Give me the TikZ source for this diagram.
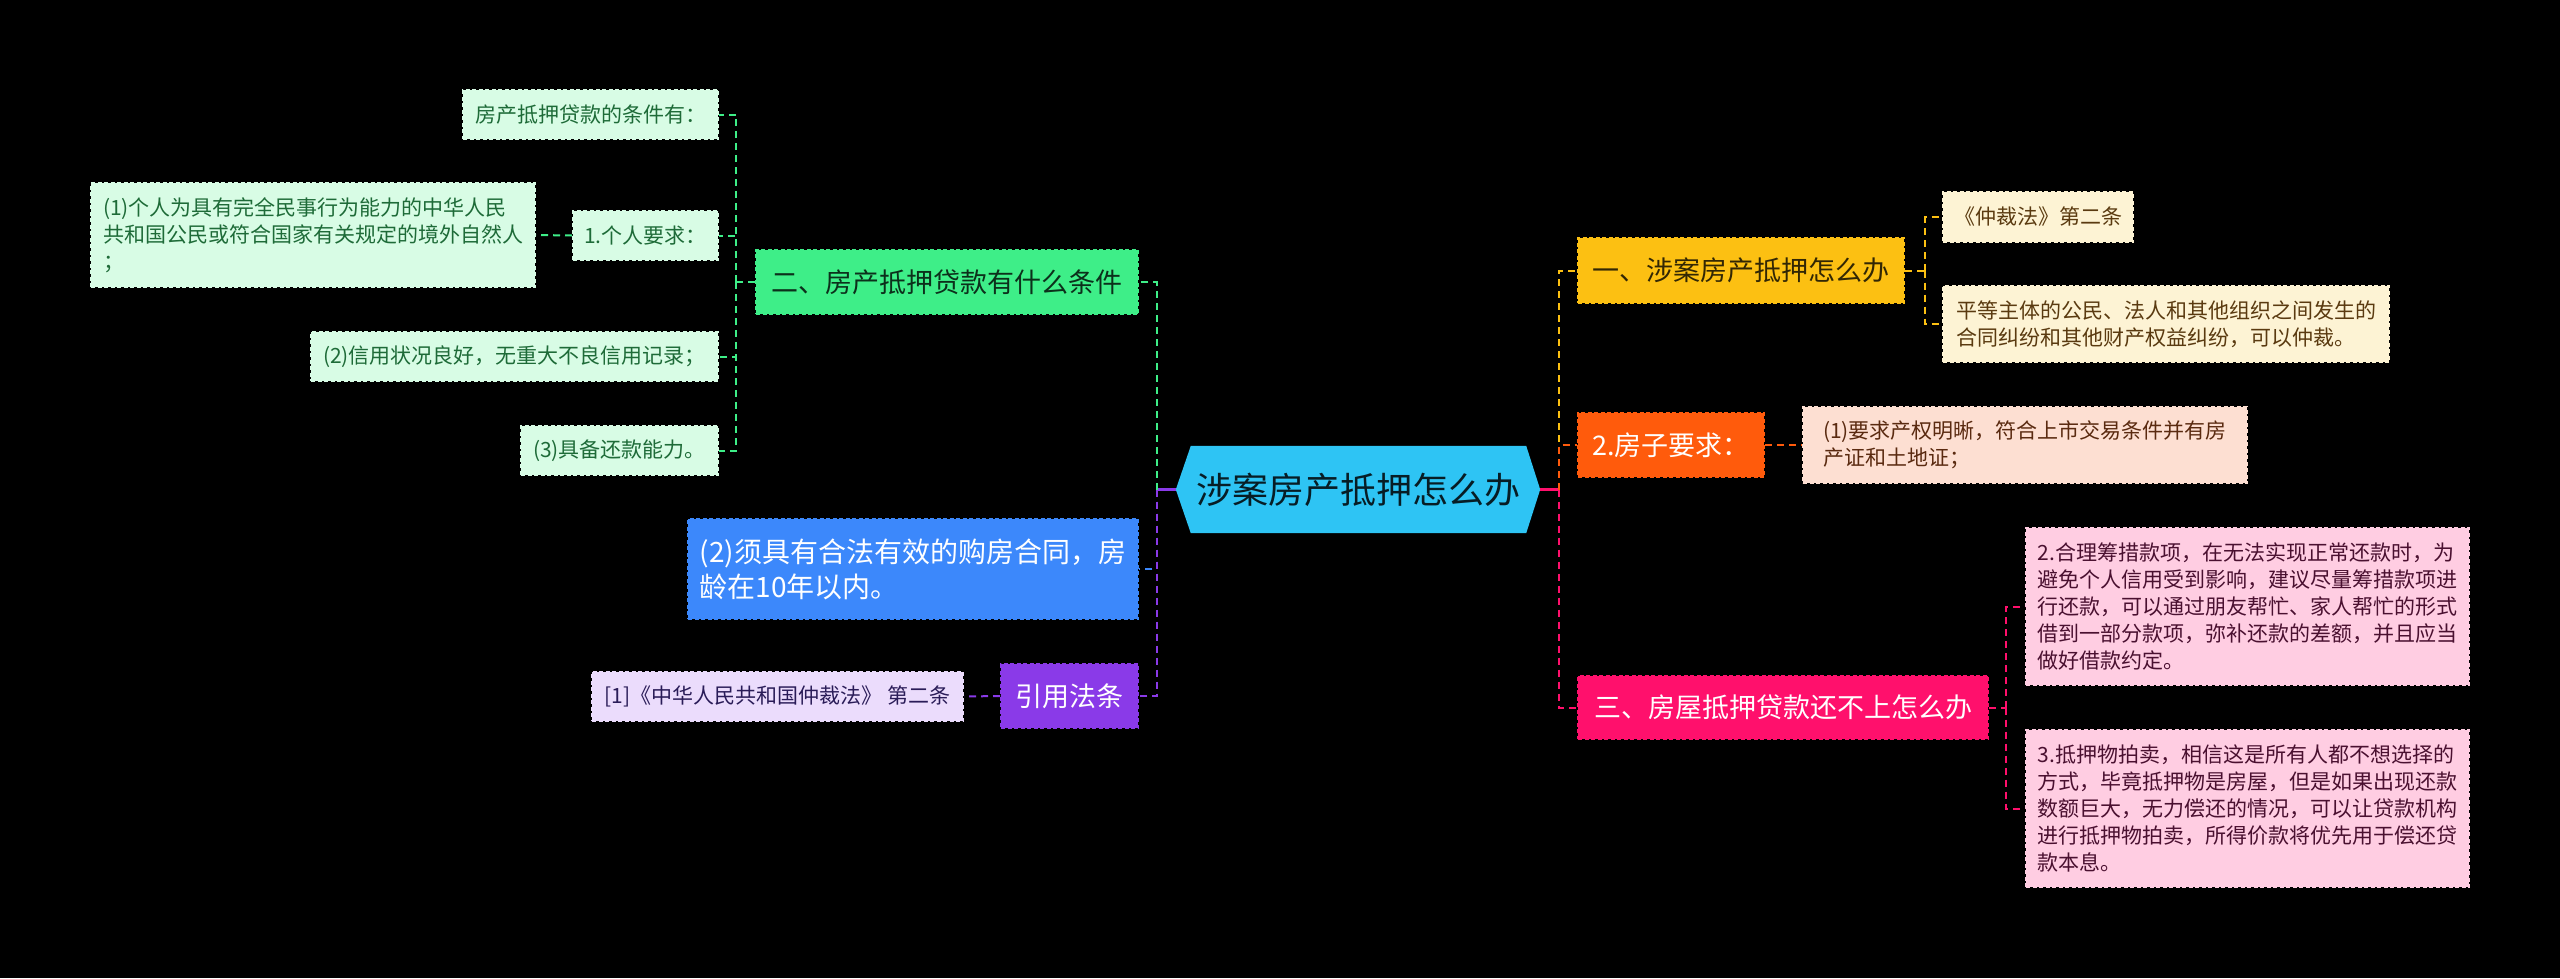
\documentclass[tikz,border=0pt]{standalone}
\usepackage{fontspec}
\setmainfont{Noto Sans CJK SC}
\usepackage{xcolor}
\usepackage{tikz}
\usetikzlibrary{positioning,backgrounds}

\definecolor{rootblue}{HTML}{2EC4F4}
\definecolor{cgreen}{HTML}{3EEE88}
\definecolor{lgreen}{HTML}{D8FCE5}
\definecolor{tgreen}{HTML}{1E6B38}
\definecolor{cblue}{HTML}{3C88FB}
\definecolor{cpurple}{HTML}{8A3AE8}
\definecolor{lpurple}{HTML}{EBDCFC}
\definecolor{tpurple}{HTML}{2A1C58}
\definecolor{cyellow}{HTML}{FCC012}
\definecolor{lyellow}{HTML}{FDF3D4}
\definecolor{tyellow}{HTML}{5A3A10}
\definecolor{corange}{HTML}{FF5B0C}
\definecolor{lorange}{HTML}{FDDFD2}
\definecolor{torange}{HTML}{5A2A10}
\definecolor{cpink}{HTML}{FF106C}
\definecolor{lpink}{HTML}{FFCDE2}
\definecolor{tpink}{HTML}{4A1030}

\newcommand{\rootfont}{\fontsize{36pt}{44pt}\selectfont}
\newcommand{\sectfont}{\fontsize{27pt}{34pt}\selectfont}
\newcommand{\bluefont}{\fontsize{28pt}{35pt}\selectfont}
\newcommand{\leaffont}{\fontsize{21pt}{27pt}\selectfont}

\begin{document}
\begin{tikzpicture}[x=1pt,y=-1pt,
  box/.style={line width=2pt, dash pattern=on 4pt off 2.5pt, inner sep=0pt, align=left},
  leafbox/.style={box, font=\leaffont},
  sectbox/.style={box, font=\sectfont},
  link/.style={line width=2pt, dash pattern=on 7pt off 5pt},
  stub/.style={line width=2.5pt},
]
\useasboundingbox (0,0) rectangle (2560,978);

% centre
\node (root) [minimum width=335pt, minimum height=87pt, inner sep=0pt,
  font=\rootfont, text=black!85!rootblue] at (1358.5,489.5) {涉案房产抵押怎么办};
\coordinate (rootW) at ([xshift=-15pt]root.west);
\coordinate (rootE) at ([xshift=14pt]root.east);
\begin{scope}[on background layer]
  \fill[black] (0,0) rectangle (2560,978);
  \fill[rootblue] (root.north west) -- (root.north east) -- (rootE)
    -- (root.south east) -- (root.south west) -- (rootW) -- cycle;
\end{scope}

% left: 二
\node (g2) [sectbox, fill=cgreen, draw=cgreen, text=black!80!cgreen,
  minimum width=382pt, minimum height=64pt] at (947,282) {二、房产抵押贷款有什么条件};
\node (g2a) [leafbox, fill=lgreen, draw=lgreen, text=tgreen,
  minimum width=255pt, minimum height=49pt] at (590.5,114.5) {房产抵押贷款的条件有：};
\node (g2b) [leafbox, fill=lgreen, draw=lgreen, text=tgreen,
  minimum width=145pt, minimum height=49pt] at (645.5,235.5) {1.个人要求：};
\node (g2b1) [leafbox, fill=lgreen, draw=lgreen, text=tgreen,
  minimum width=444pt, minimum height=104pt] at (313,235)
  {(1)个人为具有完全民事行为能力的中华人民\\共和国公民或符合国家有关规定的境外自然人\\；};
\node (g2c) [leafbox, fill=lgreen, draw=lgreen, text=tgreen,
  minimum width=407pt, minimum height=49pt] at (514.5,356.5) {(2)信用状况良好，无重大不良信用记录；};
\node (g2d) [leafbox, fill=lgreen, draw=lgreen, text=tgreen,
  minimum width=197pt, minimum height=49pt] at (619.5,450.5) {(3)具备还款能力。};

% left: blue box and citation
\node (house) [box, font=\bluefont, fill=cblue, draw=cblue, text=white,
  minimum width=450pt, minimum height=100pt] at (913,569)
  {(2)须具有合法有效的购房合同，房\\龄在10年以内。\hspace*{211pt}};
\node (cite) [sectbox, fill=cpurple, draw=cpurple, text=white,
  minimum width=137pt, minimum height=64pt] at (1069.5,696) {引用法条};
\node (cite1) [leafbox, fill=lpurple, draw=lpurple, text=tpurple,
  minimum width=371pt, minimum height=49pt] at (777.5,696.5) {[1]《中华人民共和国仲裁法》 第二条};

% right: 一
\node (y1) [sectbox, fill=cyellow, draw=cyellow, text=black!80!cyellow,
  minimum width=326pt, minimum height=65pt] at (1741,270.5) {一、涉案房产抵押怎么办};
\node (y1a) [leafbox, fill=lyellow, draw=lyellow, text=tyellow,
  minimum width=190pt, minimum height=50pt] at (2038,217) {《仲裁法》第二条};
\node (y1b) [leafbox, fill=lyellow, draw=lyellow, text=tyellow,
  minimum width=446pt, minimum height=76pt] at (2166,324)
  {平等主体的公民、法人和其他组织之间发生的\\合同纠纷和其他财产权益纠纷，可以仲裁。};

% right: 2.房子要求
\node (o2) [sectbox, fill=corange, draw=corange, text=white,
  minimum width=186pt, minimum height=64pt] at (1671,445) {2.房子要求：};
\node (o2a) [leafbox, fill=lorange, draw=lorange, text=torange,
  minimum width=444pt, minimum height=76pt] at (2025,445)
  {(1)要求产权明晰，符合上市交易条件并有房\\产证和土地证；\hspace*{252pt}};

% right: 三
\node (p3) [sectbox, fill=cpink, draw=cpink, text=white,
  minimum width=410pt, minimum height=63pt] at (1783,707.5) {三、房屋抵押贷款还不上怎么办};
\node (p3a) [leafbox, fill=lpink, draw=lpink, text=tpink,
  minimum width=443pt, minimum height=157pt] at (2247.5,606.5)
  {2.合理筹措款项，在无法实现正常还款时，为\\避免个人信用受到影响，建议尽量筹措款项进\\行还款，可以通过朋友帮忙、家人帮忙的形式\\借到一部分款项，弥补还款的差额，并且应当\\做好借款约定。};
\node (p3b) [leafbox, fill=lpink, draw=lpink, text=tpink,
  minimum width=443pt, minimum height=157pt] at (2247.5,808.5)
  {3.抵押物拍卖，相信这是所有人都不想选择的\\方式，毕竟抵押物是房屋，但是如果出现还款\\数额巨大，无力偿还的情况，可以让贷款机构\\进行抵押物拍卖，所得价款将优先用于偿还贷\\款本息。};

% links from the centre
\draw[stub, cpurple] (rootW) -- ++(-19,0) coordinate (hubL);
\draw[link, cgreen] (hubL) |- (g2.east);
\draw[link, cblue] (hubL) |- (house.east);
\draw[link, cpurple] (hubL) |- (cite.east);
\draw[stub, cpink] (rootE) -- ++(19,0) coordinate (hubR);
\draw[link, cyellow] (hubR) |- (y1.west);
\draw[link, corange] (hubR) |- (o2.west);
\draw[link, cpink] (hubR) |- (p3.west);

% links to the leaves
\draw[link, cgreen] (g2.west) -- ++(-19,0) coordinate (g2hub);
\foreach \leaf in {g2a,g2b,g2c,g2d}
  \draw[link, cgreen] (g2hub) |- (\leaf.east);
\draw[link, cgreen] (g2b.west) -- (g2b1.east);
\draw[link, cpurple] (cite.west) -- (cite1.east);
\draw[link, cyellow] (y1.east) -- ++(20,0) coordinate (y1hub);
\foreach \leaf in {y1a,y1b}
  \draw[link, cyellow] (y1hub) |- (\leaf.west);
\draw[link, corange] (o2.east) -- (o2a.west);
\draw[link, cpink] (p3.east) -- ++(17,0) coordinate (p3hub);
\foreach \leaf in {p3a,p3b}
  \draw[link, cpink] (p3hub) |- (\leaf.west);
\end{tikzpicture}
\end{document}
